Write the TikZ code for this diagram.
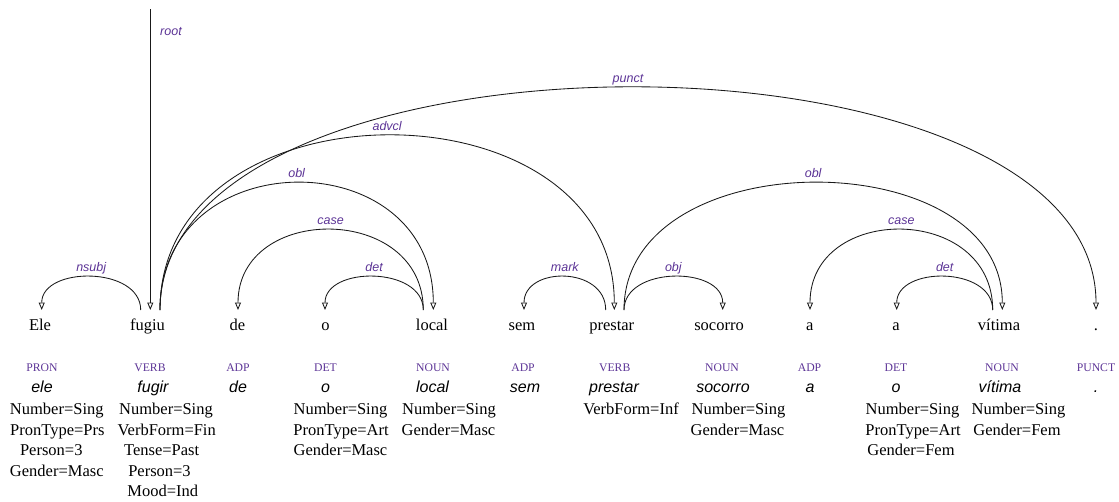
\documentclass[tikz,border=0pt]{standalone}
\usepackage{fontspec}
\setmainfont{Liberation Serif}
\newfontfamily\lemmafont{Liberation Sans}
\usetikzlibrary{arrows.meta,calc}
\definecolor{lab}{RGB}{92,52,150}
\tikzset{
  word/.style={anchor=base, inner sep=0pt, font=\fontsize{16.5}{20}\selectfont},
  postag/.style={anchor=base, inner sep=0pt, text=lab, font=\fontsize{11.7}{14}\selectfont},
  lem/.style={anchor=base, inner sep=0pt, font=\lemmafont\itshape\fontsize{16}{19}\selectfont},
  feat/.style={anchor=base, inner sep=0pt, font=\fontsize{16.5}{20}\selectfont},
  rel/.style={anchor=base, inner sep=0pt, text=lab, font=\lemmafont\itshape\fontsize{12.5}{15}\selectfont},
  deparrow/.style={draw=black!90, line width=0.85pt, -{Triangle[open,length=7.5pt,width=6pt]}},
}
\newcommand\deparc[4]{%
  \draw[deparrow] (#1) .. controls ($(#1)+(0,-#3)$) and ($(#2)+(0,-#3)$) .. (#2)
    node[rel, pos=0.5, yshift=5.5pt] {#4};}
\begin{document}
\begin{tikzpicture}[x=1pt, y=-1pt]
\path[use as bounding box] (0,0) rectangle (1119,501);
% words
\node[word] (w1) at (40,330.5) {Ele};
\node[word] (w2) at (147.5,330.5) {fugiu};
\node[word] (w3) at (237.5,330.5) {de};
\node[word] (w4) at (325.5,330.5) {o};
\node[word] (w5) at (432,330.5) {local};
\node[word] (w6) at (522,330.5) {sem};
\node[word] (w7) at (611.7,330.5) {prestar};
\node[word] (w8) at (719,330.5) {socorro};
\node[word] (w9) at (809.8,330.5) {a};
\node[word] (w10) at (896,330.5) {a};
\node[word] (w11) at (999,330.5) {vítima};
\node[word] (w12) at (1096,330.5) {.};
% POS
\node[postag] (p1) at (42,371) {PRON};
\node[postag] (p2) at (150,371) {VERB};
\node[postag] (p3) at (238,371) {ADP};
\node[postag] (p4) at (325.5,371) {DET};
\node[postag] (p5) at (433,371) {NOUN};
\node[postag] (p6) at (523,371) {ADP};
\node[postag] (p7) at (614.7,371) {VERB};
\node[postag] (p8) at (722,371) {NOUN};
\node[postag] (p9) at (809.5,371) {ADP};
\node[postag] (p10) at (896,371) {DET};
\node[postag] (p11) at (1002,371) {NOUN};
\node[postag] (p12) at (1096,371) {PUNCT};
% lemmas
\node[lem] (l1) at (42,392.5) {ele};
\node[lem] (l2) at (153,392.5) {fugir};
\node[lem] (l3) at (238,392.5) {de};
\node[lem] (l4) at (325.5,392.5) {o};
\node[lem] (l5) at (432.5,392.5) {local};
\node[lem] (l6) at (525,392.5) {sem};
\node[lem] (l7) at (614,392.5) {prestar};
\node[lem] (l8) at (723,392.5) {socorro};
\node[lem] (l9) at (810,392.5) {a};
\node[lem] (l10) at (896,392.5) {o};
\node[lem] (l11) at (1000,392.5) {vítima};
\node[lem] (l12) at (1096,392.5) {.};
% features
\node[feat] (f1a) at (56.8,414.5) {Number=Sing};
\node[feat] (f1b) at (57.3,435.1) {PronType=Prs};
\node[feat] (f1c) at (51.3,455.7) {Person=3};
\node[feat] (f1d) at (56.8,476.3) {Gender=Masc};
\node[feat] (f2a) at (166,414.5) {Number=Sing};
\node[feat] (f2b) at (166.7,435.1) {VerbForm=Fin};
\node[feat] (f2c) at (161.7,455.7) {Tense=Past};
\node[feat] (f2d) at (159.5,476.3) {Person=3};
\node[feat] (f2e) at (162.8,496.9) {Mood=Ind};
\node[feat] (f4a) at (340.5,414.5) {Number=Sing};
\node[feat] (f4b) at (341,435.1) {PronType=Art};
\node[feat] (f4c) at (340.5,455.7) {Gender=Masc};
\node[feat] (f5a) at (449,414.5) {Number=Sing};
\node[feat] (f5b) at (448.5,435.1) {Gender=Masc};
\node[feat] (f7a) at (631,414.5) {VerbForm=Inf};
\node[feat] (f8a) at (738.5,414.5) {Number=Sing};
\node[feat] (f8b) at (737.5,435.1) {Gender=Masc};
\node[feat] (f10a) at (912.5,414.5) {Number=Sing};
\node[feat] (f10b) at (913,435.1) {PronType=Art};
\node[feat] (f10c) at (911,455.7) {Gender=Fem};
\node[feat] (f11a) at (1018.5,414.5) {Number=Sing};
\node[feat] (f11b) at (1017,435.1) {Gender=Fem};
% arc end points
\coordinate (rootTop) at (150.3,9);
\coordinate (w1in) at (41.7,310);
\coordinate (w2l) at (140.7,310);
\coordinate (w2in) at (150.3,310);
\coordinate (w2r) at (160,310);
\coordinate (w3in) at (238,310);
\coordinate (w4in) at (325,310);
\coordinate (w5l) at (423.3,310);
\coordinate (w5in) at (433.3,310);
\coordinate (w6in) at (524,310);
\coordinate (w7l) at (605.7,310);
\coordinate (w7in) at (614.3,310);
\coordinate (w7r) at (624,310);
\coordinate (w8in) at (722.7,310);
\coordinate (w9in) at (810,310);
\coordinate (w10in) at (896.7,310);
\coordinate (w11l) at (992.7,310);
\coordinate (w11in) at (1002.3,310);
\coordinate (w12in) at (1096,310);
% root
\draw[deparrow] (rootTop) -- (w2in);
\node[rel] (rootlab) at (171,35) {root};
% arcs
\deparc{w2l}{w1in}{44}{nsubj}
\deparc{w2r}{w5in}{169.3}{obl}
\deparc{w2r}{w7in}{232.4}{advcl}
\deparc{w2r}{w12in}{296.4}{punct}
\deparc{w5l}{w3in}{106.7}{case}
\deparc{w5l}{w4in}{44}{det}
\deparc{w7l}{w6in}{44}{mark}
\deparc{w7r}{w8in}{44}{obj}
\deparc{w7r}{w11in}{169.3}{obl}
\deparc{w11l}{w9in}{106.7}{case}
\deparc{w11l}{w10in}{44}{det}
\end{tikzpicture}
\end{document}
